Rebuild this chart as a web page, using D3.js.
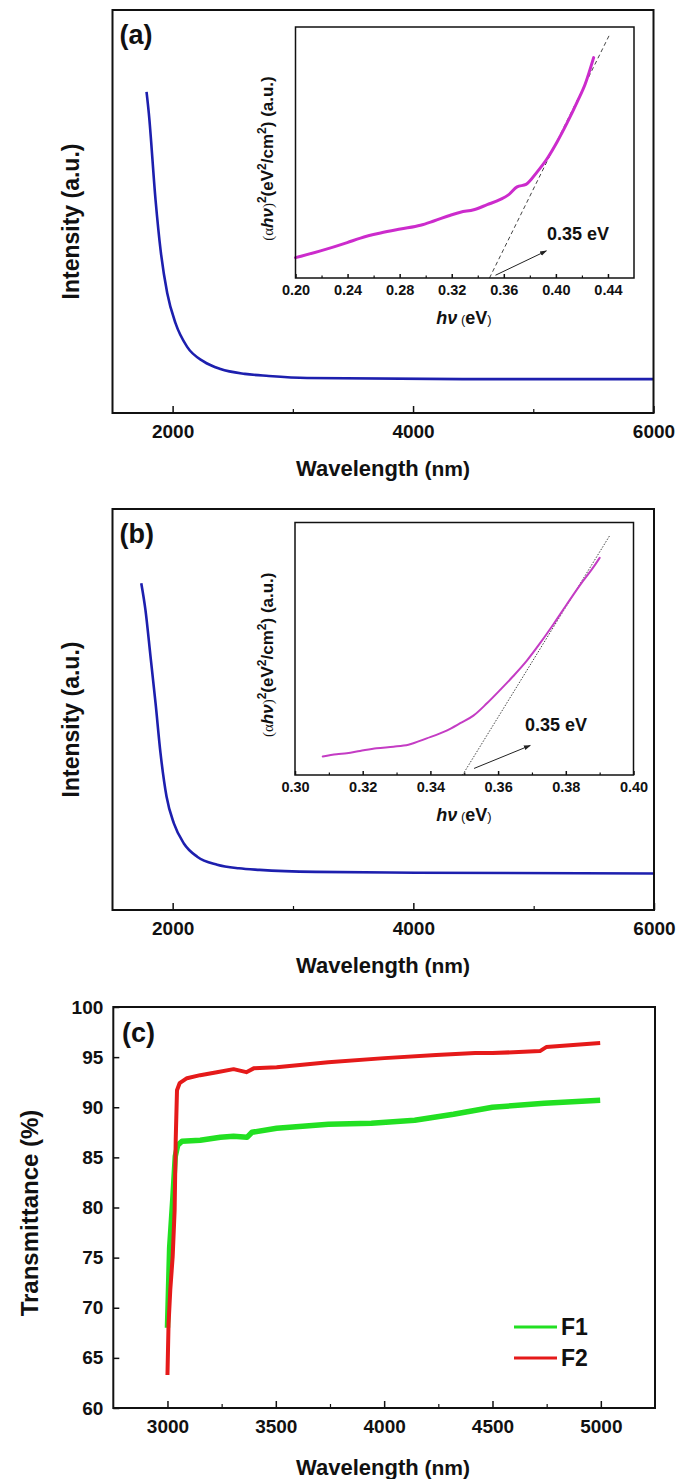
<!DOCTYPE html>
<html><head><meta charset="utf-8">
<script src="https://cdn.jsdelivr.net/npm/d3@7"></script>
<style>body{margin:0;background:#fff}</style>
</head><body>
<svg id="fig" width="677" height="1479"></svg>
<script>
// ---------- DATA ----------
// Panel (a) main spectrum
const aWavelength = [1783,1802,1858,1900,1955,2024,2121,2257,2398,2600,2800,3118,4411,6000];
const aIntensity  = [79.7,74.4,52.9,40.4,29.8,22.3,16.4,12.8,10.9,9.7,9.2,8.7,8.4,8.4];
// Panel (a) inset (Tauc plot)
const aInsetHv  = [0.200,0.2192,0.2397,0.2499,0.2653,0.2806,0.2960,0.3062,0.3190,0.3267,0.3369,0.3472,0.3574,0.3638,0.3702,0.3771,0.3855,0.3932,0.4009,0.4086,0.4163,0.4226,0.4290];
const aInsetAbs = [8.1,10.8,14.1,15.9,17.9,19.5,21.0,22.7,25.0,26.2,27.2,29.2,31.3,33.2,36.3,37.3,42.2,47.5,54.2,61.8,70.1,77.4,87.8];
const aTangentHv = [0.349, 0.441];
const aTangentAbs = [0, 96.7];
const aArrowHv = [0.3536, 0.3927];
const aArrowAbs = [1.1, 10.8];
// Panel (b) main spectrum
const bWavelength = [1739,1774,1816,1858,1899,1949,2010,2093,2204,2370,2550,2723,3188,4016,6000];
const bIntensity  = [81.5,74.8,63.2,51.5,39.1,28.3,21.6,16.6,13.3,11.3,10.4,10.0,9.5,9.3,9.1];
// Panel (b) inset
const bInsetHv  = [0.3082,0.3123,0.3153,0.3192,0.3241,0.3291,0.3335,0.3389,0.3448,0.3488,0.3527,0.3567,0.3606,0.3645,0.3685,0.3724,0.3764,0.3803,0.3842,0.3882,0.3900];
const bInsetAbs = [7.3,8.2,8.6,9.5,10.6,11.2,12.0,14.5,17.6,20.5,23.5,28.4,33.7,39.2,45.3,52.2,59.8,67.6,75.2,82.4,86.0];
const bTangentHv = [0.3495, 0.3931];
const bTangentAbs = [0, 95.1];
const bArrowHv = [0.3529, 0.3695];
const bArrowAbs = [2.6, 11.7];
// Panel (c) transmittance
const f1Wavelength = [3000,3010,3025,3036,3047,3067,3151,3244,3305,3367,3390,3504,3743,3941,4141,4320,4500,4739,4997];
const f1Trans      = [68,76,81,85.1,86.2,86.6,86.7,87.0,87.1,87.0,87.5,87.9,88.3,88.4,88.7,89.3,90.0,90.4,90.7];
const f2Wavelength = [3000,3005,3013,3024,3033,3038,3044,3056,3090,3151,3228,3305,3364,3400,3504,3742,4001,4240,4420,4500,4719,4748,4997];
const f2Trans      = [63.3,68.4,71.8,75.1,79.7,86.7,91.7,92.4,92.9,93.2,93.5,93.8,93.5,93.9,94.0,94.5,94.9,95.2,95.4,95.4,95.6,96.0,96.4];
const seriesNames = ["F1","F2"];
// Ticks
const abMajorTicks = [2000,4000,6000];
const abMinorTicks = [3000,5000];
const aInsetMajor = [0.20,0.24,0.28,0.32,0.36,0.40,0.44];
const aInsetMinor = [0.22,0.26,0.30,0.34,0.38,0.42];
const bInsetMajor = [0.30,0.32,0.34,0.36,0.38,0.40];
const bInsetMinor = [0.31,0.33,0.35,0.37,0.39];
const cXMajor = [3000,3500,4000,4500,5000];
const cXMinor = [3250,3750,4250,4750];
const cYMajor = [60,65,70,75,80,85,90,95,100];
const gapLabel = "0.35 eV";

// ---------- DRAW ----------
const FONT = "'Liberation Sans', Arial, Helvetica, sans-serif";
const svg = d3.select("#fig");
svg.append("rect").attr("width",677).attr("height",1479).attr("fill","#fff");

const defs = svg.append("defs");
defs.append("marker").attr("id","arrow").attr("viewBox","0 0 10 10")
  .attr("refX",9).attr("refY",5).attr("markerWidth",7).attr("markerHeight",7)
  .attr("orient","auto").attr("markerUnits","userSpaceOnUse")
  .append("path").attr("d","M0,1.5 L10,5 L0,8.5 Z").attr("fill","#222");

function bottomAxis(g, scale, y, major, minor, majLen, minLen, fmt, pad, fs) {
  const ax = g.append("g").attr("transform",`translate(0,${y})`)
    .call(d3.axisBottom(scale).tickValues(major).tickSizeInner(-majLen).tickSizeOuter(0)
      .tickPadding(pad).tickFormat(fmt));
  ax.select(".domain").remove();
  ax.attr("font-family",FONT).attr("font-size",fs).attr("font-weight","bold");
  ax.selectAll("line").attr("stroke","#111").attr("stroke-width",1.5);
  ax.selectAll("text").attr("fill","#111");
  if (minor.length) {
    const mx = g.append("g").attr("transform",`translate(0,${y})`)
      .call(d3.axisBottom(scale).tickValues(minor).tickSizeInner(-minLen).tickSizeOuter(0).tickFormat(""));
    mx.select(".domain").remove();
    mx.selectAll("line").attr("stroke","#111").attr("stroke-width",1.2);
  }
}
function frame(g, x0, y0, x1, y1, sw) {
  g.append("rect").attr("x",x0).attr("y",y0).attr("width",x1-x0).attr("height",y1-y0)
    .attr("fill","none").attr("stroke","#111").attr("stroke-width",sw);
}
function text(g, x, y, str, size, opts={}) {
  const t = g.append("text").attr("x",x).attr("y",y).attr("font-family",FONT)
    .attr("font-size",size).attr("font-weight",opts.weight||"bold").attr("fill","#111")
    .attr("text-anchor",opts.anchor||"start").text(str);
  if (opts.rotate) t.attr("transform",`rotate(-90,${x},${y})`);
  return t;
}
function wavelengthTitle(g, cx, y) {
  const t = g.append("text").attr("x",cx).attr("y",y).attr("text-anchor","middle")
    .attr("font-family",FONT).attr("font-size",22).attr("fill","#111");
  t.append("tspan").attr("font-weight","bold").text("Wavelength");
  t.append("tspan").attr("font-weight","bold").attr("font-size",21).text(" (nm)");
}
function hvTitle(g, cx, y) {
  const t = g.append("text").attr("x",cx).attr("y",y).attr("text-anchor","middle")
    .attr("font-family",FONT).attr("font-size",18).attr("fill","#111");
  t.append("tspan").attr("font-weight","bold").attr("font-style","italic").text("hν");
  t.append("tspan").attr("font-size",13).attr("font-weight","normal").text(" (");
  t.append("tspan").attr("font-weight","bold").text("eV");
  t.append("tspan").attr("font-size",13).attr("font-weight","normal").text(")");
}
function insetYTitle(g, x, cy) {
  const t = g.append("text").attr("x",x).attr("y",cy).attr("text-anchor","middle")
    .attr("transform",`rotate(-90,${x},${cy})`)
    .attr("font-family",FONT).attr("font-size",17).attr("fill","#111");
  t.append("tspan").attr("font-family","'Liberation Serif', serif").attr("font-size",15).text("(α");
  t.append("tspan").attr("font-weight","bold").attr("font-style","italic").text("hν");
  t.append("tspan").attr("font-family","'Liberation Serif', serif").attr("font-size",15).text(")");
  t.append("tspan").attr("font-size",12).attr("font-weight","bold").attr("dy",-7).text("2");
  t.append("tspan").attr("font-weight","bold").attr("dy",7).text("(eV");
  t.append("tspan").attr("font-size",12).attr("font-weight","bold").attr("dy",-7).text("2");
  t.append("tspan").attr("font-weight","bold").attr("dy",7).text("/cm");
  t.append("tspan").attr("font-size",12).attr("font-weight","bold").attr("dy",-7).text("2");
  t.append("tspan").attr("font-weight","bold").attr("dy",7).text(") (a.u.)");
}

// Generic spectral panel (a) / (b)
function spectrumPanel(cfg) {
  const g = svg.append("g");
  const x = d3.scaleLinear().domain([1500,6000]).range([cfg.x0,cfg.x1]);
  const y = d3.scaleLinear().domain([0,100]).range([cfg.y1,cfg.y0]);
  const line = d3.line().x(d=>x(d[0])).y(d=>y(d[1])).curve(d3.curveMonotoneX);
  g.append("path").datum(d3.zip(cfg.wl, cfg.val)).attr("d",line)
    .attr("fill","none").attr("stroke","#1d1fae").attr("stroke-width",2.6);
  frame(g, cfg.x0, cfg.y0, cfg.x1, cfg.y1, 2);
  bottomAxis(g, x, cfg.y1, abMajorTicks, abMinorTicks, 7, 4, d3.format("d"), 12, 19);
  text(g, cfg.x0+7, cfg.y0+34, cfg.label, 27);
  wavelengthTitle(g, 383, cfg.y1+63);
  const cy = (cfg.y0+cfg.y1)/2+10;
  const it = g.append("text").attr("x",79).attr("y",cy).attr("text-anchor","middle")
    .attr("transform",`rotate(-90,79,${cy})`)
    .attr("font-family",FONT).attr("font-size",23).attr("fill","#111");
  it.append("tspan").attr("font-weight","bold").text("Intensity");
  it.append("tspan").attr("font-weight","bold").text(" (a.u.)");

  // inset
  const ins = cfg.inset;
  const ix = d3.scaleLinear().domain(ins.domain).range([ins.x0,ins.x1]);
  const iy = d3.scaleLinear().domain([0,100]).range([ins.y1,ins.y0]);
  const il = d3.line().x(d=>ix(d[0])).y(d=>iy(d[1]));
  g.append("path").datum(d3.zip(ins.tanHv, ins.tanAbs)).attr("d",il)
    .attr("fill","none").attr("stroke","#444").attr("stroke-width",ins.tanWidth)
    .attr("stroke-dasharray",ins.dash);
  g.append("path").datum(d3.zip(ins.hv, ins.abs)).attr("d",il.curve(d3.curveMonotoneX))
    .attr("fill","none").attr("stroke",ins.color).attr("stroke-width",ins.width)
    .attr("stroke-linecap","round").attr("stroke-linejoin","round");
  const ar = d3.zip(ins.arHv, ins.arAbs);
  g.append("line").attr("x1",ix(ar[0][0])).attr("y1",iy(ar[0][1]))
    .attr("x2",ix(ar[1][0])).attr("y2",iy(ar[1][1]))
    .attr("stroke","#222").attr("stroke-width",1).attr("marker-end","url(#arrow)");
  frame(g, ins.x0, ins.y0, ins.x1, ins.y1, 1.5);
  bottomAxis(g, ix, ins.y1, ins.major, ins.minor, 4, 2.5, d3.format(".2f"), 7, 14.5);
  text(g, ins.gapX, ins.gapY, gapLabel, 18);
  hvTitle(g, 464, ins.y1+46);
  insetYTitle(g, 273, (ins.y0+ins.y1)/2+6);
}

spectrumPanel({
  x0:112.5, x1:653.5, y0:10, y1:413, wl:aWavelength, val:aIntensity, label:"(a)",
  inset:{x0:295.5, x1:634, y0:27, y1:278, domain:[0.20,0.46], hv:aInsetHv, abs:aInsetAbs,
    tanHv:aTangentHv, tanAbs:aTangentAbs, arHv:aArrowHv, arAbs:aArrowAbs,
    major:aInsetMajor, minor:aInsetMinor, color:"#cc2bcc", width:3, dash:"4,3", tanWidth:1,
    gapX:547, gapY:240}
});
spectrumPanel({
  x0:112.5, x1:654, y0:509, y1:910, wl:bWavelength, val:bIntensity, label:"(b)",
  inset:{x0:295, x1:633.5, y0:522.5, y1:775, domain:[0.30,0.40], hv:bInsetHv, abs:bInsetAbs,
    tanHv:bTangentHv, tanAbs:bTangentAbs, arHv:bArrowHv, arAbs:bArrowAbs,
    major:bInsetMajor, minor:bInsetMinor, color:"#c43cc4", width:2, dash:"1.5,1.5", tanWidth:1,
    gapX:525, gapY:731}
});

// Panel (c)
(function(){
  const g = svg.append("g");
  const x0=113.3, x1=655, y0=1007, y1=1408;
  const x = d3.scaleLinear().domain([2750,5250]).range([x0,x1]);
  const y = d3.scaleLinear().domain([60,100]).range([y1,y0]);
  const line = d3.line().x(d=>x(d[0])).y(d=>y(d[1]));
  const colors = ["#22e022","#e51a1a"];
  const widths = [5.5,4];
  [[f1Wavelength,f1Trans],[f2Wavelength,f2Trans]].forEach((s,i)=>{
    g.append("path").datum(d3.zip(s[0],s[1])).attr("d",line)
      .attr("fill","none").attr("stroke",colors[i]).attr("stroke-width",widths[i])
      .attr("stroke-linejoin","round");
  });
  frame(g, x0, y0, x1, y1, 2);
  bottomAxis(g, x, y1, cXMajor, cXMinor, 7, 4, d3.format("d"), 12, 19);
  const ya = g.append("g").attr("transform",`translate(${x0},0)`)
    .call(d3.axisLeft(y).tickValues(cYMajor).tickSizeInner(-6).tickSizeOuter(0).tickPadding(10).tickFormat(d3.format("d")));
  ya.select(".domain").remove();
  ya.attr("font-family",FONT).attr("font-size",19).attr("font-weight","bold");
  ya.selectAll("line").attr("stroke","#111").attr("stroke-width",1.5);
  ya.selectAll("text").attr("fill","#111");
  text(g, 122, 1042, "(c)", 27);
  wavelengthTitle(g, 383, 1475);
  const tt = g.append("text").attr("x",38).attr("y",1213).attr("text-anchor","middle")
    .attr("transform","rotate(-90,38,1213)").attr("font-family",FONT).attr("font-size",24).attr("fill","#111");
  tt.append("tspan").attr("font-weight","bold").text("Transmittance");
  tt.append("tspan").attr("font-weight","bold").text(" (%)");
  // legend
  seriesNames.forEach((n,i)=>{
    const ly = 1327 + i*31;
    g.append("line").attr("x1",514).attr("x2",557).attr("y1",ly).attr("y2",ly)
      .attr("stroke",colors[i]).attr("stroke-width",3);
    text(g, 561, ly+8, n, 23);
  });
})();
</script>
</body></html>
